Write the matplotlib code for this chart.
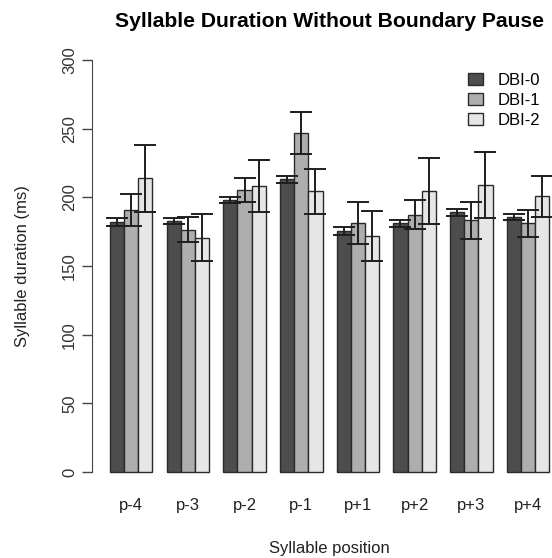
import matplotlib.pyplot as plt
import numpy as np

plt.rcParams['font.family'] = ['Liberation Sans', 'DejaVu Sans']

positions = ['p-4', 'p-3', 'p-2', 'p-1', 'p+1', 'p+2', 'p+3', 'p+4']
groups = ['DBI-0', 'DBI-1', 'DBI-2']

# mean durations (ms)
dbi0 = [182.2, 183.0, 198.1, 213.1, 175.6, 181.2, 189.2, 185.7]
dbi1 = [191.0, 176.6, 205.6, 246.9, 181.4, 187.4, 183.3, 181.2]
dbi2 = [214.0, 170.8, 208.3, 204.6, 172.2, 205.0, 208.9, 201.0]

# standard errors (ms)
err0 = [2.8, 2.0, 2.2, 2.8, 2.7, 2.7, 2.7, 2.3]
err1 = [11.5, 9.1, 8.9, 15.5, 15.4, 10.5, 13.6, 10.0]
err2 = [24.4, 17.0, 18.8, 16.5, 18.3, 24.0, 24.0, 15.0]

colors = ['#4D4D4D', '#AEAEAE', '#E6E6E6']

fig = plt.figure(figsize=(5.52, 5.58), dpi=100)
ax = fig.add_axes([0.1674, 0.1246, 0.8594, 0.797])

n = len(positions)
base = 1 + 4 * np.arange(n)  # R barplot style: 1 unit gap between groups
means = [dbi0, dbi1, dbi2]
errs = [err0, err1, err2]

for k in range(3):
    ax.bar(base + k + 0.5, means[k], width=1.0, color=colors[k],
           edgecolor='#2a2a2a', linewidth=1.0, label=groups[k], zorder=2)

for k in range(3):
    ax.errorbar(base + k + 0.5, means[k], yerr=errs[k], fmt='none',
                ecolor='#1e1e1e', elinewidth=1.4, capsize=7.8,
                capthick=1.4, zorder=3)

ax.set_xlim(-0.24, 33.24)
ax.set_ylim(-12, 312)

for s in ['top', 'right', 'bottom']:
    ax.spines[s].set_visible(False)
ax.spines['left'].set_bounds(0, 300)
ax.spines['left'].set_color('#444444')

ax.set_yticks([0, 50, 100, 150, 200, 250, 300])
ax.set_yticklabels(['0', '50', '100', '150', '200', '250', '300'],
                   rotation=90, va='center')
ax.tick_params(axis='y', length=7, width=1, color='#444444',
               labelsize=12, pad=4, labelcolor='#333333')

ax.set_xticks(base + 1.5)
ax.set_xticklabels(positions)
ax.tick_params(axis='x', length=0, labelsize=12, pad=7, labelcolor='#222222')

ax.set_xlabel('Syllable position', fontsize=12, color='#222222')
ax.xaxis.set_label_coords(0.5, -0.134)
ax.xaxis.label.set_va('center')
ax.set_ylabel('Syllable duration (ms)', fontsize=12, color='#222222')
ax.yaxis.set_label_coords(-0.148, 0.5)
ax.yaxis.label.set_va('center')

ax.set_title('Syllable Duration Without Boundary Pause', fontsize=15.2,
             fontweight='bold', pad=12)

ax.legend(loc='upper left', bbox_to_anchor=(468 / 552, 1 - 73 / 558),
          bbox_transform=fig.transFigure, frameon=False, fontsize=12,
          borderpad=0, borderaxespad=0, handlelength=0.9, handleheight=0.75,
          handletextpad=0.85, labelspacing=0.3)

fig.savefig('out.png', dpi=100)
